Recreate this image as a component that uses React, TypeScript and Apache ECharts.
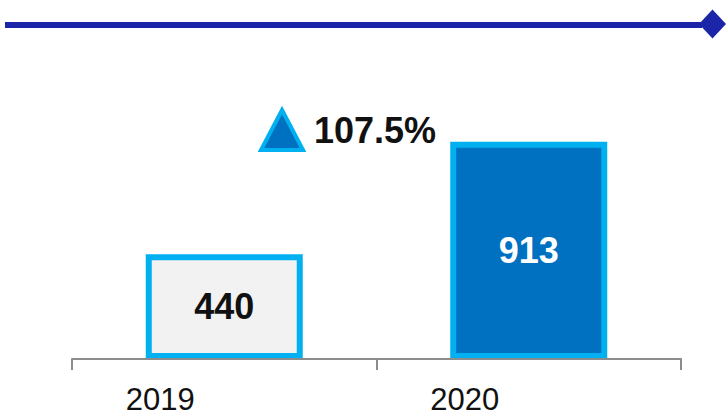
import React, { useEffect, useRef } from "react";
import * as echarts from "echarts";

const categories = ["2019", "2020"];
const values = [440, 913];
const barFills = ["#F2F2F2", "#0070C0"];
const labelColors = ["#111111", "#FFFFFF"];

const growth = ((values[1] / values[0] - 1) * 100).toFixed(1) + "%";

const FONT = "'Liberation Sans', Arial, sans-serif";

export default function App() {
  const ref = useRef<HTMLDivElement>(null);
  useEffect(() => {
    if (!ref.current) return;
    const chart = echarts.init(ref.current, undefined, { renderer: "svg" });
    chart.setOption({
      animation: false,
      backgroundColor: "#FFFFFF",
      grid: { left: 72, right: 46, top: 121, bottom: 57, containLabel: false },
      xAxis: {
        type: "category",
        data: categories,
        boundaryGap: true,
        axisLine: { show: true, lineStyle: { color: "#8C8C8C", width: 2 } },
        axisTick: { show: true, length: 11, lineStyle: { color: "#8C8C8C", width: 2 } },
        axisLabel: {
          color: "#111111",
          fontFamily: FONT,
          fontSize: 31,
          margin: 40,
          verticalAlign: "middle",
          padding: [0, 128, 0, 0],
        },
        z: 5,
      },
      yAxis: {
        type: "value",
        min: 0,
        max: 1000,
        show: false,
        splitLine: { show: false },
      },
      series: [
        {
          type: "bar",
          barWidth: 157,
          data: values.map((v, i) => ({
            value: v,
            itemStyle: {
              color: barFills[i],
              borderColor: "#00B0F0",
              borderWidth: 6,
            },
            label: { color: labelColors[i] },
          })),
          label: {
            show: true,
            position: "inside",
            fontFamily: FONT,
            fontSize: 36,
            fontWeight: "bold",
          },
          z: 2,
        },
      ],
      graphic: [
        {
          type: "line",
          shape: { x1: 5, y1: 25, x2: 702, y2: 25 },
          style: { stroke: "#1C25A8", lineWidth: 6 },
        },
        {
          type: "polygon",
          shape: { points: [[712.5, 9.5], [726, 24], [712.5, 38.5], [699, 24]] },
          style: { fill: "#1C25A8" },
        },
        {
          type: "polygon",
          shape: { points: [[282, 110], [303, 150], [261, 150]] },
          style: { fill: "#0070C0", stroke: "#00B0F0", lineWidth: 4 },
        },
        {
          type: "text",
          x: 314,
          y: 130,
          style: {
            text: growth,
            fill: "#111111",
            fontFamily: FONT,
            fontSize: 36,
            fontWeight: "bold",
            verticalAlign: "middle",
            align: "left",
          },
        },
      ],
    });
    return () => chart.dispose();
  }, []);
  return (
    <div
      ref={ref}
      style={{ position: "fixed", left: 0, top: 0, width: 727, height: 416 }}
    />
  );
}
